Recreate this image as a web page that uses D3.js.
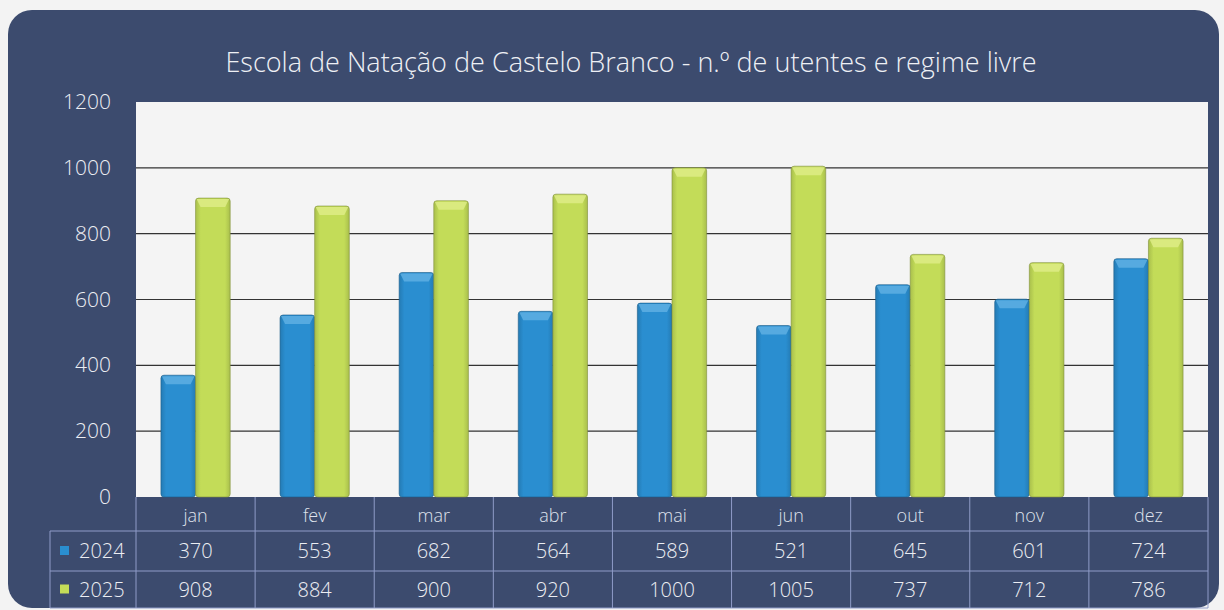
<!DOCTYPE html>
<html>
<head>
<meta charset="utf-8">
<script src="https://cdn.jsdelivr.net/npm/d3@7"></script>
<style>
  body { margin: 0; background: #f3f3f3; }
  text { font-family: "Open Sans", "Noto Sans", sans-serif; }
</style>
</head>
<body>
<script>
const width = 1224;
const height = 610;

const months = ["jan", "fev", "mar", "abr", "mai", "jun", "out", "nov", "dez"];
const values2024 = [370, 553, 682, 564, 589, 521, 645, 601, 724];
const values2025 = [908, 884, 900, 920, 1000, 1005, 737, 712, 786];
const seriesNames = ["2024", "2025"];
const yTicks = [0, 200, 400, 600, 800, 1000, 1200];

const colors = { "2024": "#2a8ed0", "2025": "#c3dc58" };
const topColors = { "2024": "#62b2e4", "2025": "#e0ed8a" };

const margin = { left: 136, right: 16, top: 102, bottom: 113 };
const plotRight = width - margin.right;
const plotBottom = height - margin.bottom;

const svg = d3.select("body")
  .append("svg")
  .attr("width", width)
  .attr("height", height);

// dark panel
svg.append("rect")
  .attr("x", 8).attr("y", 10)
  .attr("width", 1211).attr("height", 598)
  .attr("rx", 24)
  .attr("fill", "#3c4b6e");

const x = d3.scaleBand()
  .domain(months)
  .range([margin.left, plotRight]);

const xInner = d3.scaleBand()
  .domain(seriesNames)
  .range([0, x.bandwidth()])
  .paddingOuter(0.72);

const y = d3.scaleLinear()
  .domain([0, 1200])
  .range([plotBottom, margin.top]);

// plot area
svg.append("rect")
  .attr("x", margin.left).attr("y", margin.top)
  .attr("width", plotRight - margin.left)
  .attr("height", plotBottom - margin.top)
  .attr("fill", "#f4f4f4");

// gridlines
svg.selectAll(".grid")
  .data(yTicks.filter(d => d > 0 && d < 1200))
  .enter()
  .append("line")
  .attr("class", "grid")
  .attr("x1", margin.left).attr("x2", plotRight)
  .attr("y1", d => y(d)).attr("y2", d => y(d))
  .attr("stroke", "#333")
  .attr("stroke-width", 1.2);

// y axis labels
svg.selectAll(".ylab")
  .data(yTicks)
  .enter()
  .append("text")
  .attr("class", "ylab")
  .attr("x", 111)
  .attr("y", d => y(d) + 7)
  .attr("text-anchor", "end")
  .attr("fill", "#eceef3")
  .style("font-size", "21px")
  .style("font-weight", 300)
  .text(d => d);

// bars
const defs = svg.append("defs");
seriesNames.forEach(s => {
  const g = defs.append("linearGradient")
    .attr("id", "grad" + s)
    .attr("x1", 0).attr("x2", 1).attr("y1", 0).attr("y2", 0);
  g.append("stop").attr("offset", "0%").attr("stop-color", d3.color(colors[s]).darker(0.4));
  g.append("stop").attr("offset", "15%").attr("stop-color", colors[s]);
  g.append("stop").attr("offset", "85%").attr("stop-color", colors[s]);
  g.append("stop").attr("offset", "100%").attr("stop-color", d3.color(colors[s]).darker(0.4));
});

const rows = months.map((m, i) => ({ month: m, "2024": values2024[i], "2025": values2025[i] }));

const groups = svg.selectAll(".month")
  .data(rows)
  .enter()
  .append("g")
  .attr("class", "month")
  .attr("transform", d => `translate(${x(d.month)},0)`);

seriesNames.forEach(s => {
  groups.append("rect")
    .attr("x", xInner(s))
    .attr("y", d => y(d[s]))
    .attr("width", xInner.bandwidth())
    .attr("height", d => plotBottom - y(d[s]))
    .attr("rx", 3)
    .attr("fill", `url(#grad${s})`)
    .attr("stroke", d3.color(colors[s]).darker(1.2))
    .attr("stroke-width", 0.6);

  // bevelled top
  groups.append("path")
    .attr("d", d => {
      const x0 = xInner(s), w = xInner.bandwidth(), t = y(d[s]);
      return `M${x0 + 1},${t + 1} L${x0 + w - 1},${t + 1} L${x0 + w - 5},${t + 9} L${x0 + 5},${t + 9} Z`;
    })
    .attr("fill", topColors[s])
    .attr("opacity", 0.8);
});

// data table
const tableLeft = 50;
const rowY = [plotBottom, 531, 571, 608];
const tableColor = "#8f9cc8";

svg.selectAll(".hline")
  .data([531, 571, 608])
  .enter()
  .append("line")
  .attr("x1", tableLeft).attr("x2", plotRight)
  .attr("y1", d => d).attr("y2", d => d)
  .attr("stroke", tableColor)
  .attr("stroke-width", 1);

svg.selectAll(".vline")
  .data(months.map(m => x(m)).concat([plotRight]))
  .enter()
  .append("line")
  .attr("x1", d => d).attr("x2", d => d)
  .attr("y1", plotBottom).attr("y2", 608)
  .attr("stroke", tableColor)
  .attr("stroke-width", 1);

svg.append("line")
  .attr("x1", tableLeft).attr("x2", tableLeft)
  .attr("y1", 531).attr("y2", 608)
  .attr("stroke", tableColor)
  .attr("stroke-width", 1);

svg.selectAll(".mlab")
  .data(months)
  .enter()
  .append("text")
  .attr("x", d => x(d) + x.bandwidth() / 2)
  .attr("y", 522)
  .attr("text-anchor", "middle")
  .attr("fill", "#dfe2ec")
  .style("font-size", "18px")
  .style("font-weight", 300)
  .text(d => d);

seriesNames.forEach((s, si) => {
  const vals = s === "2024" ? values2024 : values2025;
  const cy = (rowY[si + 1] + rowY[si + 2]) / 2;

  svg.append("rect")
    .attr("x", 60).attr("y", cy - 5)
    .attr("width", 9).attr("height", 9)
    .attr("fill", colors[s]);

  svg.append("text")
    .attr("x", 79).attr("y", cy + 7)
    .attr("fill", "#eceef3")
    .style("font-size", "20px")
    .style("font-weight", 300)
    .text(s);

  svg.selectAll(".val" + s)
    .data(vals)
    .enter()
    .append("text")
    .attr("x", (d, i) => x(months[i]) + x.bandwidth() / 2)
    .attr("y", cy + 7)
    .attr("text-anchor", "middle")
    .attr("fill", "#eceef3")
    .style("font-size", "20px")
    .style("font-weight", 300)
    .text(d => d);
});

svg.append("text")
  .attr("x", 631)
  .attr("y", 72)
  .attr("text-anchor", "middle")
  .attr("fill", "#eef0f5")
  .style("font-size", "27px")
  .style("font-weight", 300)
  .text("Escola de Natação de Castelo Branco - n.º de utentes e regime livre");
</script>
</body>
</html>
